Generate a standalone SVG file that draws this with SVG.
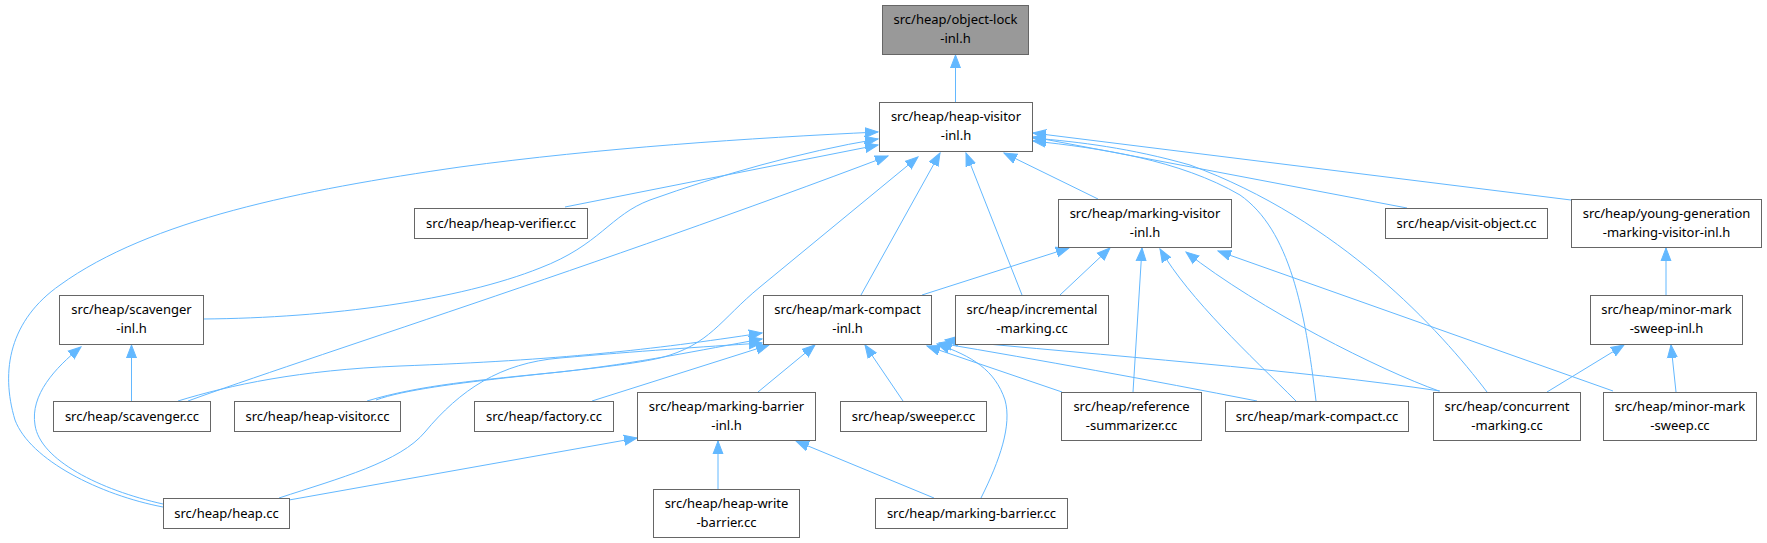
<svg xmlns="http://www.w3.org/2000/svg" width="1767" height="543" viewBox="0 0 1767 543">
<style>
.n rect{fill:#ffffff;stroke:#666666;stroke-width:1}
.n.g rect{fill:#999999}
.n text{font-family:"Noto Sans","Liberation Sans",sans-serif;font-size:13px;fill:#000000;text-anchor:middle}
.e path{fill:none;stroke:#63b8ff;stroke-width:1;marker-end:url(#ah)}
</style>
<defs>
<marker id="ah" markerUnits="userSpaceOnUse" markerWidth="14" markerHeight="12" refX="13" refY="6" orient="auto">
<path d="M0,1 L13,6 L0,11 z" fill="#63b8ff" stroke="#63b8ff" stroke-width="1"/>
</marker>
</defs>
<rect width="1767" height="543" fill="#ffffff"/>
<g id="edges" class="e">
<path d="M955.5,102 L955.5,55"/>
<path d="M163,507 C100,495 30,460 15,420 C0,370 10,320 60,285 C150,220 300,190 460,167 C600,148 750,138 878,132"/>
<path d="M203,319 C330,318 460,300 540,268 C600,245 610,215 650,200 C720,175 800,152 878,139"/>
<path d="M565,207 L878,145"/>
<path d="M188,401 C300,360 600,265 888,156"/>
<path d="M376,400 C430,380 600,372 660,358 C710,345 720,320 760,287 L918,157"/>
<path d="M861,295 L940,153"/>
<path d="M1022,295 L966,153"/>
<path d="M1098,199 L1004,153"/>
<path d="M1571,200 L1033,133"/>
<path d="M1407,208 L1033,137"/>
<path d="M1316,401 C1305,310 1290,230 1240,195 C1180,160 1100,148 1033,141"/>
<path d="M1487,392 C1440,330 1340,220 1190,165 C1130,148 1080,142 1033,138"/>
<path d="M131.5,401 L131.5,345"/>
<path d="M163,504 C100,490 40,460 35,425 C30,395 55,368 81,347"/>
<path d="M178,401 C230,385 300,370 400,366 C560,360 650,350 762,333"/>
<path d="M367,401 C420,385 480,380 560,372 C640,363 700,350 762,339"/>
<path d="M279,498 C340,478 400,462 425,432 C460,390 500,363 560,358 C640,351 700,347 762,343"/>
<path d="M592,401 L769,345"/>
<path d="M758,392 L815,345"/>
<path d="M903,401 L865,345"/>
<path d="M1062,392 L927,346"/>
<path d="M1257,401 C1150,380 1040,360 939,343"/>
<path d="M1440,391 C1300,370 1100,355 945,340"/>
<path d="M981,498 C1000,460 1012,425 1005,400 C995,370 972,356 937,344"/>
<path d="M922,295 L1069,248"/>
<path d="M1060,295 L1110,248"/>
<path d="M1133,392 L1142,248"/>
<path d="M1296,401 C1250,355 1190,300 1160,249"/>
<path d="M1439,391 C1380,370 1260,310 1186,252"/>
<path d="M1613,391 L1218,251"/>
<path d="M1666,295 L1666,248"/>
<path d="M1547,392 L1624,345"/>
<path d="M1676,392 L1671,345"/>
<path d="M289,500 L637,438"/>
<path d="M718,489 L718,441"/>
<path d="M934,498 L796,441"/>
</g>
<g id="n_objectlock" class="n g"><rect x="882.5" y="5.5" width="146" height="49"/><text x="955.5" y="24">src/heap/object-lock</text><text x="955.5" y="43">-inl.h</text></g>
<g id="n_heapvisitorinl" class="n"><rect x="879.5" y="102.5" width="153" height="49"/><text x="956" y="121">src/heap/heap-visitor</text><text x="956" y="140">-inl.h</text></g>
<g id="n_heapverifier" class="n"><rect x="414.5" y="208.5" width="173" height="30"/><text x="501" y="228">src/heap/heap-verifier.cc</text></g>
<g id="n_markingvisitorinl" class="n"><rect x="1058.5" y="199.5" width="173" height="48"/><text x="1145" y="218">src/heap/marking-visitor</text><text x="1145" y="237">-inl.h</text></g>
<g id="n_visitobject" class="n"><rect x="1385.5" y="208.5" width="162" height="30"/><text x="1466.5" y="228">src/heap/visit-object.cc</text></g>
<g id="n_younggen" class="n"><rect x="1571.5" y="199.5" width="190" height="48"/><text x="1666.5" y="218">src/heap/young-generation</text><text x="1666.5" y="237">-marking-visitor-inl.h</text></g>
<g id="n_scavengerinl" class="n"><rect x="59.5" y="295.5" width="144" height="49"/><text x="131.5" y="314">src/heap/scavenger</text><text x="131.5" y="333">-inl.h</text></g>
<g id="n_scavenger" class="n"><rect x="53.5" y="401.5" width="157" height="30"/><text x="132" y="421">src/heap/scavenger.cc</text></g>
<g id="n_heapvisitor" class="n"><rect x="234.5" y="401.5" width="166" height="30"/><text x="317.5" y="421">src/heap/heap-visitor.cc</text></g>
<g id="n_heap" class="n"><rect x="163.5" y="498.5" width="126" height="30"/><text x="226.5" y="518">src/heap/heap.cc</text></g>
<g id="n_factory" class="n"><rect x="474.5" y="401.5" width="139" height="30"/><text x="544" y="421">src/heap/factory.cc</text></g>
<g id="n_markcompactinl" class="n"><rect x="763.5" y="295.5" width="168" height="49"/><text x="847.5" y="314">src/heap/mark-compact</text><text x="847.5" y="333">-inl.h</text></g>
<g id="n_incremental" class="n"><rect x="955.5" y="295.5" width="153" height="49"/><text x="1032" y="314">src/heap/incremental</text><text x="1032" y="333">-marking.cc</text></g>
<g id="n_markingbarrierinl" class="n"><rect x="637.5" y="392.5" width="178" height="48"/><text x="726.5" y="411">src/heap/marking-barrier</text><text x="726.5" y="430">-inl.h</text></g>
<g id="n_sweeper" class="n"><rect x="840.5" y="401.5" width="146" height="30"/><text x="913.5" y="421">src/heap/sweeper.cc</text></g>
<g id="n_refsummarizer" class="n"><rect x="1061.5" y="392.5" width="140" height="48"/><text x="1131.5" y="411">src/heap/reference</text><text x="1131.5" y="430">-summarizer.cc</text></g>
<g id="n_markcompact" class="n"><rect x="1225.5" y="401.5" width="183" height="30"/><text x="1317" y="421">src/heap/mark-compact.cc</text></g>
<g id="n_concurrent" class="n"><rect x="1433.5" y="392.5" width="147" height="48"/><text x="1507" y="411">src/heap/concurrent</text><text x="1507" y="430">-marking.cc</text></g>
<g id="n_minormarksweep" class="n"><rect x="1603.5" y="392.5" width="153" height="48"/><text x="1680" y="411">src/heap/minor-mark</text><text x="1680" y="430">-sweep.cc</text></g>
<g id="n_minormarksweepinl" class="n"><rect x="1590.5" y="295.5" width="152" height="49"/><text x="1666.5" y="314">src/heap/minor-mark</text><text x="1666.5" y="333">-sweep-inl.h</text></g>
<g id="n_heapwritebarrier" class="n"><rect x="653.5" y="489.5" width="146" height="48"/><text x="726.5" y="508">src/heap/heap-write</text><text x="726.5" y="527">-barrier.cc</text></g>
<g id="n_markingbarrier" class="n"><rect x="875.5" y="498.5" width="192" height="30"/><text x="971.5" y="518">src/heap/marking-barrier.cc</text></g>
</svg>
